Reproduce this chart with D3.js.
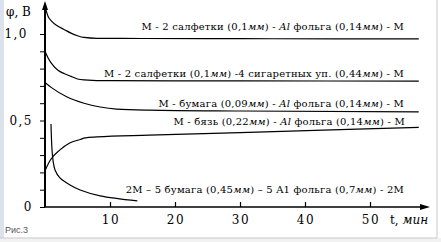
<!DOCTYPE html>
<html>
<head>
<meta charset="utf-8">
<script src="https://cdn.jsdelivr.net/npm/d3@7"></script>
<style>
body { margin: 0; background: #fff; }
svg { display: block; }
</style>
</head>
<body>
<script>
// curves: t (min) and phi (V)
var t1 = [0, 0.5, 1, 2, 3, 4, 5, 6, 8, 15, 30, 45, 57.5];
var phi1 = [1.16, 1.10, 1.075, 1.045, 1.025, 1.005, 0.99, 0.98, 0.975, 0.974, 0.973, 0.972, 0.972];

var t2 = [0, 0.5, 1, 2, 3, 4, 5, 6, 10, 30, 57.5];
var phi2 = [0.90, 0.86, 0.83, 0.79, 0.77, 0.755, 0.74, 0.735, 0.73, 0.729, 0.728];

var t3 = [0, 1, 3.4, 6, 8.5, 11, 16, 30, 57.5];
var phi3 = [0.72, 0.69, 0.636, 0.60, 0.578, 0.566, 0.56, 0.555, 0.55];

var t4 = [0, 0.8, 2.3, 3.8, 5.4, 6.2, 8, 16, 30, 57.5];
var phi4 = [0.21, 0.27, 0.33, 0.37, 0.39, 0.40, 0.405, 0.415, 0.43, 0.46];

var t5 = [0.92, 1.0, 1.08, 1.23, 1.54, 2.3, 3.85, 5.4, 8.5, 14.2];
var phi5 = [0.48, 0.39, 0.33, 0.27, 0.214, 0.168, 0.127, 0.098, 0.064, 0.035];

var xTicks = [10, 20, 30, 40, 50];
var yMinor = [0.1, 0.2, 0.3, 0.4, 0.6, 0.7, 0.8, 0.9];
var yLabels = [{v: 0, s: "0"}, {v: 0.5, s: "0,5"}, {v: 1.0, s: "1,0"}];

var serif = "DejaVu Serif";
var w = 441, h = 242;
var svg = d3.select("body").append("svg").attr("width", w).attr("height", h);

// frame of the scanned figure
svg.append("rect").attr("x", 0).attr("y", 0).attr("width", 4).attr("height", h).style("fill", "#dbe2eb");
svg.append("rect").attr("x", 0).attr("y", 238).attr("width", w).attr("height", 4).style("fill", "#f2f2f2");
svg.append("line").attr("x1", 0).attr("x2", 437).attr("y1", 238).attr("y2", 238).style("stroke", "#c8c8c8");
svg.append("line").attr("x1", 437).attr("x2", 437).attr("y1", 0).attr("y2", 238).style("stroke", "#c8c8c8");

var x = d3.scaleLinear().domain([0, 50]).range([45, 370]);
var y = d3.scaleLinear().domain([0, 1]).range([207, 34]);

// axes
var xAxis = d3.axisTop(x).tickValues(xTicks).tickSize(5).tickFormat("");
svg.append("g").attr("transform", "translate(0,207)").call(xAxis)
    .call(function(g){ g.select(".domain").remove(); })
    .selectAll("line").style("stroke", "#000").style("stroke-width", 1.2);

var yAxis = d3.axisLeft(y).tickValues(yMinor.concat([0, 0.5, 1])).tickSize(5).tickFormat("");
svg.append("g").attr("transform", "translate(45,0)").call(yAxis)
    .call(function(g){ g.select(".domain").remove(); })
    .selectAll("line").style("stroke", "#000").style("stroke-width", 1);

svg.append("line").attr("x1", 45).attr("x2", 45).attr("y1", 207).attr("y2", 6)
    .style("stroke", "#000").style("stroke-width", 2);
svg.append("line").attr("x1", 44).attr("x2", 424).attr("y1", 207).attr("y2", 207)
    .style("stroke", "#000").style("stroke-width", 1.6);
svg.append("path").attr("d", "M45,1 L42,10 L48,10 Z").style("fill", "#000");
svg.append("path").attr("d", "M430,207 L420,204 L420,210 Z").style("fill", "#000");

// tick labels
svg.selectAll(".xl").data(xTicks).enter().append("text")
    .attr("font-family", serif).attr("font-size", 12).attr("letter-spacing", 1.5)
    .attr("text-anchor", "middle")
    .attr("x", function(d){ return x(d) + 1; }).attr("y", 224)
    .text(function(d){ return d; });

svg.selectAll(".yl").data(yLabels).enter().append("text")
    .attr("font-family", serif).attr("font-size", 12).attr("letter-spacing", 1.5)
    .attr("text-anchor", "end")
    .attr("x", function(d){ return d.v === 1 ? 28 : 33; })
    .attr("y", function(d){ return y(d.v) + 4; })
    .text(function(d){ return d.s; });

// axis titles
svg.append("text").attr("x", 6).attr("y", 16)
    .attr("font-family", serif).attr("font-size", 12)
    .text("φ, В");
var tl = svg.append("text").attr("x", 390).attr("y", 224)
    .attr("font-family", serif).attr("font-size", 12);
tl.append("tspan").text("t, ");
tl.append("tspan").attr("font-style", "italic").text("мин");

// curves
var line = d3.line()
    .x(function(d){ return x(d[0]); })
    .y(function(d){ return y(d[1]); })
    .curve(d3.curveMonotoneX);

var curves = [[t1, phi1], [t2, phi2], [t3, phi3], [t4, phi4]];
curves.forEach(function(c){
    svg.append("path")
        .datum(d3.zip(c[0], c[1]))
        .attr("d", line)
        .style("fill", "none").style("stroke", "#000").style("stroke-width", 1.2);
});
var line5 = d3.line()
    .x(function(d){ return x(d[0]); })
    .y(function(d){ return y(d[1]); })
    .curve(d3.curveCatmullRom);
svg.append("path")
    .datum(d3.zip(t5, phi5))
    .attr("d", line5)
    .style("fill", "none").style("stroke", "#000").style("stroke-width", 1.2);

// curve captions: pieces [text, italic]
var captions = [
    {x: 404, y: 30, parts: [["М - 2 салфетки (0,1", 0], ["мм", 1], [") - ", 0], ["Al", 1], [" фольга (0,14", 0], ["мм", 1], [") - М", 0]]},
    {x: 404, y: 77, parts: [["М - 2 салфетки (0,1", 0], ["мм", 1], [") -4 сигаретных уп. (0,44", 0], ["мм", 1], [") - М", 0]]},
    {x: 404, y: 107, parts: [["М - бумага (0,09", 0], ["мм", 1], [") - ", 0], ["Al", 1], [" фольга (0,14", 0], ["мм", 1], [") - М", 0]]},
    {x: 405, y: 125, parts: [["М - бязь (0,22", 0], ["мм", 1], [") - ", 0], ["Al", 1], [" фольга (0,14", 0], ["мм", 1], [") - М", 0]]},
    {x: 404, y: 193, parts: [["2M – 5 бумага (0,45", 0], ["мм", 1], [") – 5 A1 фольга (0,7", 0], ["мм", 1], [") - 2M", 0]]}
];
captions.forEach(function(c){
    var tx = svg.append("text").attr("text-anchor", "end")
        .attr("x", c.x).attr("y", c.y)
        .attr("font-family", serif).attr("font-size", 10).attr("letter-spacing", 0.2);
    c.parts.forEach(function(p){
        tx.append("tspan").attr("font-style", p[1] ? "italic" : "normal").text(p[0]);
    });
});

svg.append("text").attr("x", 5).attr("y", 233)
    .attr("font-family", "Liberation Sans").attr("font-size", 9)
    .attr("fill", "#555").text("Рис.3");
</script>
</body>
</html>
